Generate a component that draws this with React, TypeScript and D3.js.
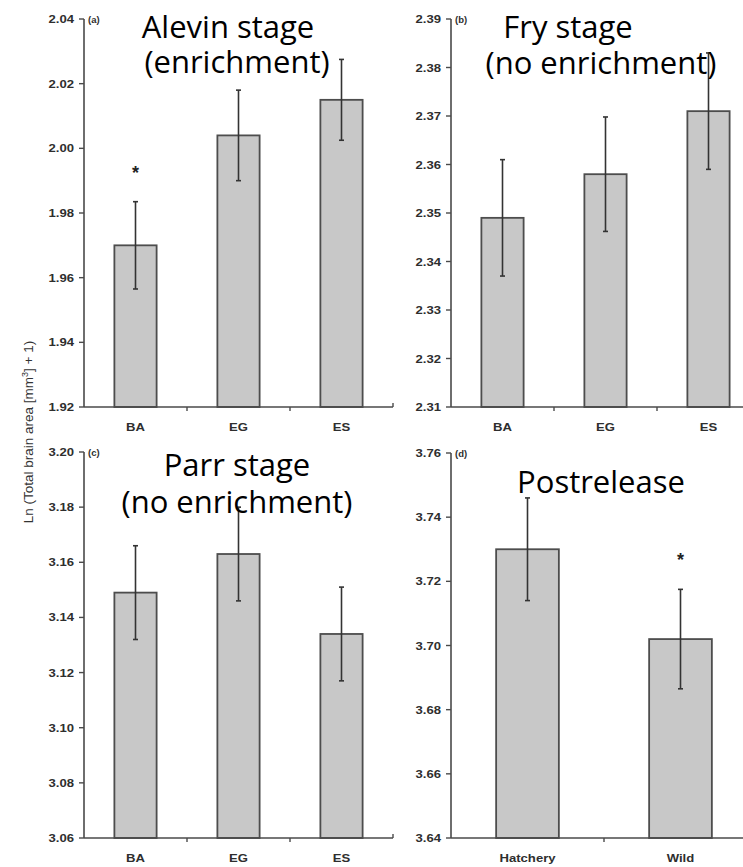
import React from "react";
import * as d3 from "d3";

// Treatment groups and measured brain size (ln of total brain area + 1)
const stageCategories = ["BA", "EG", "ES"];
const releaseCategories = ["Hatchery", "Wild"];

const alevinMeans = [1.97, 2.004, 2.015];
const alevinErrors = [0.0135, 0.014, 0.0125];
const alevinSignificant = [true, false, false];
const alevinTicks = [1.92, 1.94, 1.96, 1.98, 2.0, 2.02, 2.04];

const fryMeans = [2.349, 2.358, 2.371];
const fryErrors = [0.012, 0.0118, 0.012];
const frySignificant = [false, false, false];
const fryTicks = [2.31, 2.32, 2.33, 2.34, 2.35, 2.36, 2.37, 2.38, 2.39];

const parrMeans = [3.149, 3.163, 3.134];
const parrErrors = [0.017, 0.017, 0.017];
const parrSignificant = [false, false, false];
const parrTicks = [3.06, 3.08, 3.1, 3.12, 3.14, 3.16, 3.18, 3.2];

const releaseMeans = [3.73, 3.702];
const releaseErrors = [0.016, 0.0155];
const releaseSignificant = [false, true];
const releaseTicks = [3.64, 3.66, 3.68, 3.7, 3.72, 3.74, 3.76];

const panelTags = ["(a)", "(b)", "(c)", "(d)"];
const yAxisTitle = "Ln (Total brain area [mm";

const W = 743;
const H = 867;
const AXIS = "#4a4a4a";
const LABEL = "#2e2e2e";
const BAR_FILL = "#c8c8c8";
const TICK_FONT = "'Liberation Sans', Arial, sans-serif";
const TITLE_FONT = "'Open Sans', 'Noto Sans', sans-serif";

type TitleLine = { text: string; cx: number; y: number };

type PanelProps = {
  left: number;
  right: number;
  top: number;
  bottom: number;
  ticks: number[];
  cats: string[];
  means: number[];
  errs: number[];
  sig: boolean[];
  tag: string;
  titles: TitleLine[];
};

function Panel(p: PanelProps) {
  const y = d3
    .scaleLinear()
    .domain([p.ticks[0], p.ticks[p.ticks.length - 1]])
    .range([p.bottom, p.top]);
  const x = d3
    .scaleBand<string>()
    .domain(p.cats)
    .range([p.left, p.right])
    .paddingInner(0.59)
    .paddingOuter(0.295);
  const step = x.step();
  const bw = x.bandwidth();
  const fmt = d3.format(".2f");
  const bounds = d3.range(1, p.cats.length + 1).map((i) => p.left + i * step);

  return (
    <g>
      {/* bars */}
      {p.cats.map((c, i) => (
        <rect
          key={"bar" + c}
          x={x(c)!}
          y={y(p.means[i])}
          width={bw}
          height={y(p.ticks[0]) - y(p.means[i])}
          fill={BAR_FILL}
          stroke="#4d4d4d"
          strokeWidth={1.8}
        />
      ))}
      {/* error bars */}
      {p.cats.map((c, i) => {
        const cx = x(c)! + bw / 2;
        const hi = y(p.means[i] + p.errs[i]);
        const lo = y(p.means[i] - p.errs[i]);
        return (
          <g key={"err" + c} stroke="#333" strokeWidth={1.6}>
            <line x1={cx} x2={cx} y1={hi} y2={lo} />
            <line x1={cx - 2.5} x2={cx + 2.5} y1={hi} y2={hi} />
            <line x1={cx - 2.5} x2={cx + 2.5} y1={lo} y2={lo} />
          </g>
        );
      })}
      {/* significance marks */}
      {p.cats.map((c, i) =>
        p.sig[i] ? (
          <text
            key={"sig" + c}
            x={x(c)! + bw / 2}
            y={y(p.means[i] + p.errs[i]) - 23}
            textAnchor="middle"
            fontFamily={TICK_FONT}
            fontWeight="bold"
            fontSize={18}
            fill="#222"
          >
            *
          </text>
        ) : null
      )}
      {/* y axis */}
      <line x1={p.left} x2={p.left} y1={p.top} y2={p.bottom} stroke={AXIS} strokeWidth={1.6} />
      {p.ticks.map((t) => (
        <g key={"yt" + t}>
          <line x1={p.left - 5} x2={p.left} y1={y(t)} y2={y(t)} stroke={AXIS} strokeWidth={1.4} />
          <text
            transform={`translate(${p.left - 10},${y(t) + 4}) scale(1.25,1)`}
            textAnchor="end"
            fontFamily={TICK_FONT}
            fontWeight="bold"
            fontSize={10.5}
            fill={LABEL}
          >
            {fmt(t)}
          </text>
        </g>
      ))}
      {/* x axis */}
      <line x1={p.left} x2={p.right} y1={p.bottom} y2={p.bottom} stroke={AXIS} strokeWidth={1.6} />
      {bounds.map((b, i) => (
        <line
          key={"xb" + i}
          x1={b}
          x2={b}
          y1={i === bounds.length - 1 ? p.bottom - 4 : p.bottom}
          y2={i === bounds.length - 1 ? p.bottom : p.bottom + 4}
          stroke={AXIS}
          strokeWidth={1.4}
        />
      ))}
      {p.cats.map((c) => (
        <text
          key={"xl" + c}
          transform={`translate(${x(c)! + bw / 2},${p.bottom + 24}) scale(1.25,1)`}
          textAnchor="middle"
          fontFamily={TICK_FONT}
          fontWeight="bold"
          fontSize={10.5}
          fill={LABEL}
        >
          {c}
        </text>
      ))}
      {/* panel tag */}
      <text
        x={p.left + 4}
        y={p.top + 4}
        fontFamily={TICK_FONT}
        fontWeight="bold"
        fontSize={9.5}
        fill={LABEL}
      >
        {p.tag}
      </text>
      {/* stage titles */}
      {p.titles.map((t, i) => (
        <text
          key={"tt" + i}
          x={t.cx}
          y={t.y}
          textAnchor="middle"
          fontFamily={TITLE_FONT}
          fontSize={31}
          fill="#000"
        >
          {t.text}
        </text>
      ))}
    </g>
  );
}

export default function App() {
  return (
    <svg
      width={W}
      height={H}
      style={{ position: "absolute", left: 0, top: 0, display: "block", background: "#fff" }}
    >
      <rect width={W} height={H} fill="#fff" />
      <Panel
        left={84}
        right={393}
        top={19}
        bottom={407}
        ticks={alevinTicks}
        cats={stageCategories}
        means={alevinMeans}
        errs={alevinErrors}
        sig={alevinSignificant}
        tag={panelTags[0]}
        titles={[
          { text: "Alevin stage", cx: 228, y: 38 },
          { text: "(enrichment)", cx: 237, y: 73 },
        ]}
      />
      <Panel
        left={451}
        right={760}
        top={19}
        bottom={407}
        ticks={fryTicks}
        cats={stageCategories}
        means={fryMeans}
        errs={fryErrors}
        sig={frySignificant}
        tag={panelTags[1]}
        titles={[
          { text: "Fry stage", cx: 568, y: 38 },
          { text: "(no enrichment)", cx: 601, y: 74 },
        ]}
      />
      <Panel
        left={84}
        right={393}
        top={452}
        bottom={838}
        ticks={parrTicks}
        cats={stageCategories}
        means={parrMeans}
        errs={parrErrors}
        sig={parrSignificant}
        tag={panelTags[2]}
        titles={[
          { text: "Parr stage", cx: 237, y: 476 },
          { text: "(no enrichment)", cx: 237, y: 513 },
        ]}
      />
      <Panel
        left={451}
        right={757}
        top={453}
        bottom={838}
        ticks={releaseTicks}
        cats={releaseCategories}
        means={releaseMeans}
        errs={releaseErrors}
        sig={releaseSignificant}
        tag={panelTags[3]}
        titles={[{ text: "Postrelease", cx: 601, y: 493 }]}
      />
      {/* shared y-axis title */}
      <text
        transform="translate(33,432) rotate(-90)"
        textAnchor="middle"
        fontFamily={TICK_FONT}
        fontSize={13.5}
        fill="#333"
      >
        {yAxisTitle}
        <tspan dy={-5} fontSize={9}>
          3
        </tspan>
        <tspan dy={5}>] + 1)</tspan>
      </text>
    </svg>
  );
}
